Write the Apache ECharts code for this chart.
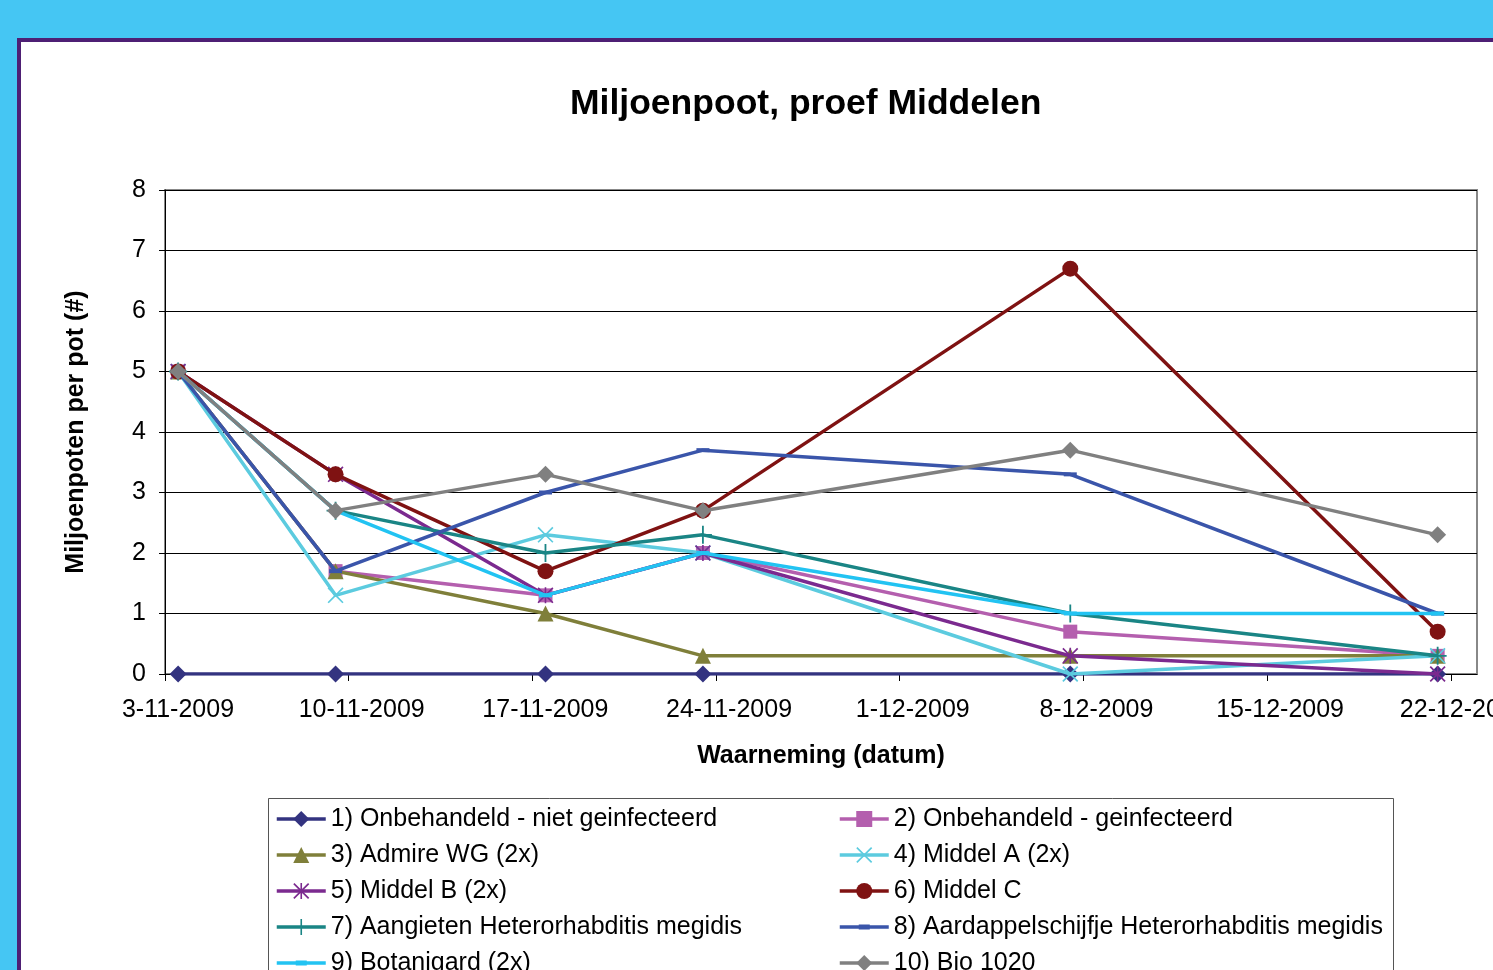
<!DOCTYPE html>
<html>
<head>
<meta charset="utf-8">
<script src="https://cdn.jsdelivr.net/npm/echarts@6/dist/echarts.min.js"></script>
<style>
html,body{margin:0;padding:0;background:#45C6F3;}
#chart{width:1493px;height:970px;}
</style>
</head>
<body>
<div id="chart"></div>
<script>
// ---- data ----
var startDate = '3-11-2009';
var obsDates = ['3-11-2009', '9-11-2009', '17-11-2009', '23-11-2009', '7-12-2009', '21-12-2009'];
var tickLabels = ['3-11-2009', '10-11-2009', '17-11-2009', '24-11-2009', '1-12-2009', '8-12-2009', '15-12-2009', '22-12-2009'];
var seriesNames = [
  '1) Onbehandeld - niet geinfecteerd',
  '2) Onbehandeld - geinfecteerd',
  '3) Admire WG (2x)',
  '4) Middel A (2x)',
  '5) Middel B (2x)',
  '6) Middel C',
  '7) Aangieten Heterorhabditis megidis',
  '8) Aardappelschijfje Heterorhabditis megidis',
  '9) Botanigard (2x)',
  '10) Bio 1020'
];
var s1 = [0, 0, 0, 0, 0, 0];
var s2 = [5, 1.7, 1.3, 2.0, 0.7, 0.3];
var s3 = [5, 1.7, 1.0, 0.3, 0.3, 0.3];
var s4 = [5, 1.3, 2.3, 2.0, 0.0, 0.3];
var s5 = [5, 3.3, 1.3, 2.0, 0.3, 0.0];
var s6 = [5, 3.3, 1.7, 2.7, 6.7, 0.7];
var s7 = [5, 2.7, 2.0, 2.3, 1.0, 0.3];
var s8 = [5, 1.7, 3.0, 3.7, 3.3, 1.0];
var s9 = [5, 2.7, 1.3, 2.0, 1.0, 1.0];
var s10 = [5, 2.7, 3.3, 2.7, 3.7, 2.3];
var allValues = [s1, s2, s3, s4, s5, s6, s7, s8, s9, s10];

// ---- styles ----
var FONT = "'Liberation Sans', Arial, sans-serif";
var X_PATH = 'path://M1.5,0L10,8.5L18.5,0L20,1.5L11.5,10L20,18.5L18.5,20L10,11.5L1.5,20L0,18.5L8.5,10L0,1.5Z';
var PLUS_PATH = 'path://M9,0H11V9H20V11H11V20H9V11H0V9H9Z';
var STAR_PATH = 'path://M1.5,0L10,8.5L18.5,0L20,1.5L11.5,10L20,18.5L18.5,20L10,11.5L1.5,20L0,18.5L8.5,10L0,1.5Z M9,0H11V20H9Z';
// legend icon for dash-marker series: bar across the icon box with a slightly thicker middle
var DASH_LEGEND = 'path://M0,0L0.01,0L0,0.01Z M0,8.2H49V11.8H0Z M19,7.4H30V12.6H19Z M0,20L0.01,20L0,19.99Z';
var styles = [
  {color: '#333380', symbol: 'diamond', size: 17},
  {color: '#B45FAE', symbol: 'rect', size: 14},
  {color: '#7F7F3A', symbol: 'triangle', size: 16},
  {color: '#5CCBDF', symbol: X_PATH, size: 16},
  {color: '#7B2A8F', symbol: STAR_PATH, size: 16},
  {color: '#7F1212', symbol: 'circle', size: 16},
  {color: '#1A8585', symbol: PLUS_PATH, size: 18},
  {color: '#3A55AA', symbol: 'rect', size: [13, 4], legendIcon: DASH_LEGEND},
  {color: '#22C3F2', symbol: 'rect', size: [13, 4], legendIcon: DASH_LEGEND},
  {color: '#808080', symbol: 'diamond', size: 17}
];

function dayOffset(s) {
  var p = s.split('-').map(Number);
  var q = startDate.split('-').map(Number);
  var a = Date.UTC(p[2], p[1] - 1, p[0]);
  var b = Date.UTC(q[2], q[1] - 1, q[0]);
  return Math.round((a - b) / 86400000);
}
// Excel date axis: each day occupies one slot, points sit mid-slot
var xs = obsDates.map(function (d) { return dayOffset(d) + 0.5; });

var series = allValues.map(function (vals, i) {
  var st = styles[i];
  return {
    name: seriesNames[i],
    type: 'line',
    data: vals.map(function (v, j) { return [xs[j], v]; }),
    symbol: st.symbol,
    symbolSize: st.size,
    showAllSymbol: true,
    lineStyle: {color: st.color, width: 3.5},
    itemStyle: {color: st.color, borderWidth: 0},
    emphasis: {disabled: true},
    animation: false,
    z: 2 + i
  };
});

function legendItem(i) {
  var item = {name: seriesNames[i]};
  if (styles[i].legendIcon) item.icon = styles[i].legendIcon;
  return item;
}

var chart = echarts.init(document.getElementById('chart'), null, {renderer: 'canvas'});
var legendCommon = {
  orient: 'horizontal',
  width: 20,
  top: 805,
  padding: 0,
  itemWidth: 49,
  itemHeight: 20,
  itemGap: 8,
  lineStyle: {width: 3.5},
  textStyle: {fontFamily: FONT, fontSize: 25, color: '#000', lineHeight: 28},
  selectedMode: false
};
chart.setOption({
  backgroundColor: '#45C6F3',
  animation: false,
  graphic: [
    {type: 'rect', z: -10, shape: {x: 19, y: 40, width: 1520, height: 1000},
     style: {fill: '#ffffff', stroke: '#4E1F74', lineWidth: 4}},
    {type: 'rect', z: -5, shape: {x: 268.5, y: 798.5, width: 1125, height: 200},
     style: {fill: 'none', stroke: '#555555', lineWidth: 1}}
  ],
  title: {
    text: 'Miljoenpoot, proef Middelen',
    left: 570,
    top: 86,
    padding: 0,
    textStyle: {fontFamily: FONT, fontSize: 35.5, fontWeight: 'bold', color: '#000'}
  },
  grid: {
    left: 165, top: 190, right: 16, bottom: 296,
    outerBoundsMode: 'none',
    containLabel: false,
    show: true, borderColor: '#888888', borderWidth: 2, backgroundColor: '#ffffff'
  },
  xAxis: {
    type: 'value',
    min: 0,
    max: 50,
    interval: 7,
    name: 'Waarneming (datum)',
    nameLocation: 'middle',
    nameGap: 70,
    nameTextStyle: {fontFamily: FONT, fontSize: 25, fontWeight: 'bold', color: '#000'},
    axisLine: {show: true, lineStyle: {color: '#000', width: 1}},
    axisTick: {show: true, length: 7, lineStyle: {color: '#000'}},
    splitLine: {show: false},
    axisLabel: {
      fontFamily: FONT, fontSize: 25, color: '#000', margin: 24,
      padding: [0, 0, 0, 26],
      showMaxLabel: false,
      hideOverlap: false,
      formatter: function (v) {
        var k = Math.round(v / 7);
        return (v % 7 === 0 && k < tickLabels.length) ? tickLabels[k] : '';
      }
    }
  },
  yAxis: {
    type: 'value',
    min: 0,
    max: 8,
    interval: 1,
    name: 'Miljoenpoten per pot (#)',
    nameLocation: 'middle',
    nameGap: 76,
    nameTextStyle: {fontFamily: FONT, fontSize: 25, fontWeight: 'bold', color: '#000'},
    axisLine: {show: true, lineStyle: {color: '#000', width: 1}},
    axisTick: {show: true, length: 6, lineStyle: {color: '#000'}},
    splitLine: {show: true, lineStyle: {color: '#000', width: 1}},
    axisLabel: {fontFamily: FONT, fontSize: 25, color: '#000', margin: 19}
  },
  legend: [
    Object.assign({}, legendCommon, {left: 275, data: [0, 2, 4, 6, 8].map(legendItem)}),
    Object.assign({}, legendCommon, {left: 838, data: [1, 3, 5, 7, 9].map(legendItem)})
  ],
  series: series
});
</script>
</body>
</html>
